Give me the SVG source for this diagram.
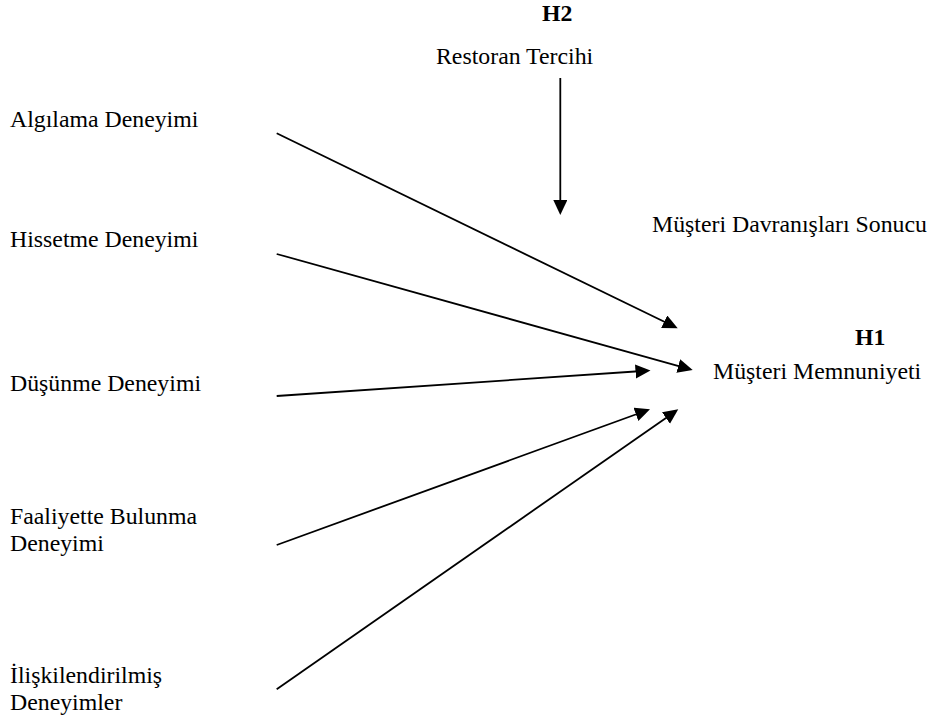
<svg xmlns="http://www.w3.org/2000/svg" width="933" height="722" viewBox="0 0 933 722">
  <style>
    text { font-family: "Liberation Serif", "Times New Roman", serif; font-size: 23.8px; fill: #000; }
    .b { font-weight: bold; }
    .c { stroke: #000; stroke-width: 1.8; fill: none; marker-end: url(#ah); }
  </style>
  <defs>
    <marker id="ah" markerUnits="userSpaceOnUse" markerWidth="16" markerHeight="15" refX="7" refY="7" orient="auto">
      <path d="M0,0 L15,7 L0,14 z" fill="#000"/>
    </marker>
  </defs>
  <rect width="933" height="722" fill="#fff"/>
  <g id="h2"><text class="b" x="542" y="21">H2</text></g>
  <g id="restoran-tercihi"><text x="436" y="64">Restoran Tercihi</text></g>
  <g id="algilama"><text x="10" y="127">Algılama Deneyimi</text></g>
  <g id="hissetme"><text x="10" y="247">Hissetme Deneyimi</text></g>
  <g id="dusunme"><text x="10" y="391">Düşünme Deneyimi</text></g>
  <g id="faaliyette"><text x="10" y="523.5">Faaliyette Bulunma</text><text x="10" y="551">Deneyimi</text></g>
  <g id="iliskilendirilmis"><text x="10" y="682.5">İlişkilendirilmiş</text><text x="10" y="710">Deneyimler</text></g>
  <g id="musteri-davranislari"><text x="652" y="232">Müşteri Davranışları Sonucu</text></g>
  <g id="h1"><text class="b" x="855" y="345">H1</text></g>
  <g id="musteri-memnuniyeti"><text x="713" y="378.5">Müşteri Memnuniyeti</text></g>
  <g id="connectors">
    <line class="c" x1="560.3" y1="78" x2="560.3" y2="207"/>
    <line class="c" x1="276.7" y1="133.3" x2="670.5" y2="324.8"/>
    <line class="c" x1="276.7" y1="254" x2="685" y2="367.8"/>
    <line class="c" x1="276.7" y1="396" x2="642.5" y2="371"/>
    <line class="c" x1="276.7" y1="545" x2="642.5" y2="412"/>
    <line class="c" x1="276.7" y1="689.3" x2="671.7" y2="413.9"/>
  </g>
</svg>
